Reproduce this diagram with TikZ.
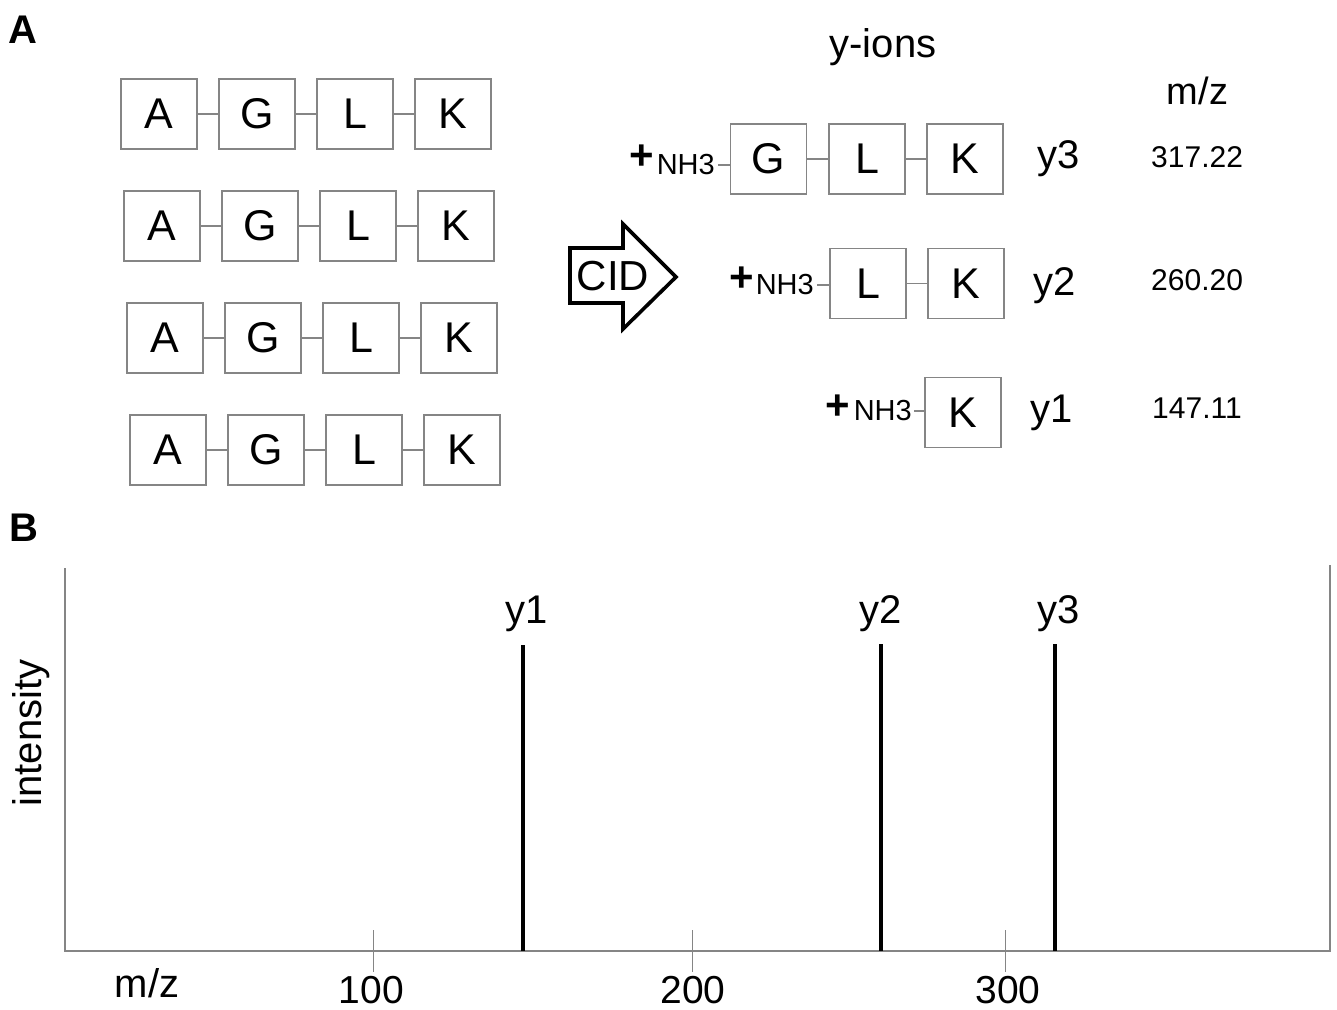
\documentclass[tikz,border=0pt]{standalone}
\usepackage{fontspec}
\setmainfont{Liberation Sans}
\definecolor{ln}{gray}{0.52}
\begin{document}
\begin{tikzpicture}[x=1pt,y=-1pt,
  aa/.style={draw=ln, line width=1.4pt, minimum width=76pt, minimum height=70pt, inner sep=0pt, font=\fontsize{43}{50}\selectfont},
  bond/.style={draw=ln, line width=1.2pt},
  nh/.style={inner sep=0pt, anchor=east, font=\fontsize{29}{34}\selectfont},
  plus/.style={inner sep=0pt, font=\bfseries\fontsize{42}{48}\selectfont},
  lbl/.style={inner sep=0pt, font=\fontsize{40}{48}\selectfont},
  ticklbl/.style={inner sep=0pt, font=\fontsize{39}{44}\selectfont},
  num/.style={inner sep=0pt, anchor=base west, font=\fontsize{30}{36}\selectfont},
  panel/.style={inner sep=0pt, anchor=base west, font=\bfseries\fontsize{40}{48}\selectfont},
  axisline/.style={draw=ln, line width=1.5pt},
  tickline/.style={draw=ln, line width=1pt},
  peak/.style={draw=black, line width=4pt}]
\useasboundingbox (0,0) rectangle (1337,1009);

% panel labels
\node[panel] (pA) at (8,43) {A};
\node[panel] (pB) at (9,541) {B};

% left peptides
\foreach \r/\x/\y in {1/121/79, 2/124/191, 3/127/303, 4/130/415} {
  \node[aa] (A\r) at (\x+38,\y+35) {A};
  \node[aa] (G\r) at (\x+136,\y+35) {G};
  \node[aa] (L\r) at (\x+234,\y+35) {L};
  \node[aa] (K\r) at (\x+332,\y+35) {K};
  \draw[bond] (A\r) -- (G\r);
  \draw[bond] (G\r) -- (L\r);
  \draw[bond] (L\r) -- (K\r);
}

% CID arrow
\draw[line width=3.6pt, line join=miter] (570,248) -- (623,248) -- (623,224) -- (676,277) -- (623,329) -- (623,303) -- (570,303) -- cycle;
\node[inner sep=0pt, font=\fontsize{42}{50}\selectfont] (cid) at (613,276) {CID};

% header
\node[lbl, anchor=base] (yions) at (883,57) {y-ions};
\node[inner sep=0pt, anchor=base, font=\fontsize{38}{46}\selectfont] (mzA) at (1197.5,104) {m/z};

% y3 row
\node[aa] (g3) at (768.5,159) {G};
\node[aa] (l3) at (867,159) {L};
\node[aa] (k3) at (965,159) {K};
\draw[bond] (g3) -- (l3);
\draw[bond] (l3) -- (k3);
\node[nh] (n3) at (715,165) {NH3};
\node[plus] (p3) at (642,157) {+};
\draw[bond] ([xshift=3pt]n3.east) -- (n3.east -| g3.west);
\node[lbl, anchor=base west] (ly3) at (1037,168) {y3};
\node[num] (m3) at (1151,167) {317.22};

% y2 row
\node[aa] (l2) at (868,283.5) {L};
\node[aa] (k2) at (966,283.5) {K};
\draw[bond] (l2) -- (k2);
\node[nh] (n2) at (814,285) {NH3};
\node[plus] (p2) at (742,279) {+};
\draw[bond] ([xshift=3pt]n2.east) -- (n2.east -| l2.west);
\node[lbl, anchor=base west] (ly2) at (1033,295) {y2};
\node[num] (m2) at (1151,290) {260.20};

% y1 row
\node[aa] (k1) at (963,412.5) {K};
\node[nh] (n1) at (912,411) {NH3};
\node[plus] (p1) at (838,407) {+};
\draw[bond] ([xshift=2pt]n1.east) -- (n1.east -| k1.west);
\node[lbl, anchor=base west] (ly1) at (1030,422) {y1};
\node[num] (m1) at (1152,418) {147.11};

% panel B: spectrum
\coordinate (o) at (65,951);
\coordinate (tl) at (65,568);
\coordinate (br) at (1330,951);
\coordinate (tr) at (1330,565);
\draw[axisline] (tl) -- (o) -- (br) -- (tr);

\foreach \tx/\lx/\t in {373/371.5/100, 692/693/200, 1005/1008/300} {
  \draw[tickline] (\tx,930) -- (\tx,972);
  \node[ticklbl, anchor=base] (t\t) at (\lx,1003) {\t};
}
\node[lbl, anchor=base] (mzB) at (147,997) {m/z};
\node[lbl, rotate=90] (inten) at (31,733) {intensity};

\coordinate (q1) at (523,645);
\coordinate (q2) at (881,644);
\coordinate (q3) at (1055,644);
\draw[peak] (q1) -- (q1 |- o);
\draw[peak] (q2) -- (q2 |- o);
\draw[peak] (q3) -- (q3 |- o);
\node[lbl, anchor=base] (b1) at (527,623) {y1};
\node[lbl, anchor=base] (b2) at (881,623) {y2};
\node[lbl, anchor=base] (b3) at (1059,623) {y3};
\end{tikzpicture}
\end{document}
